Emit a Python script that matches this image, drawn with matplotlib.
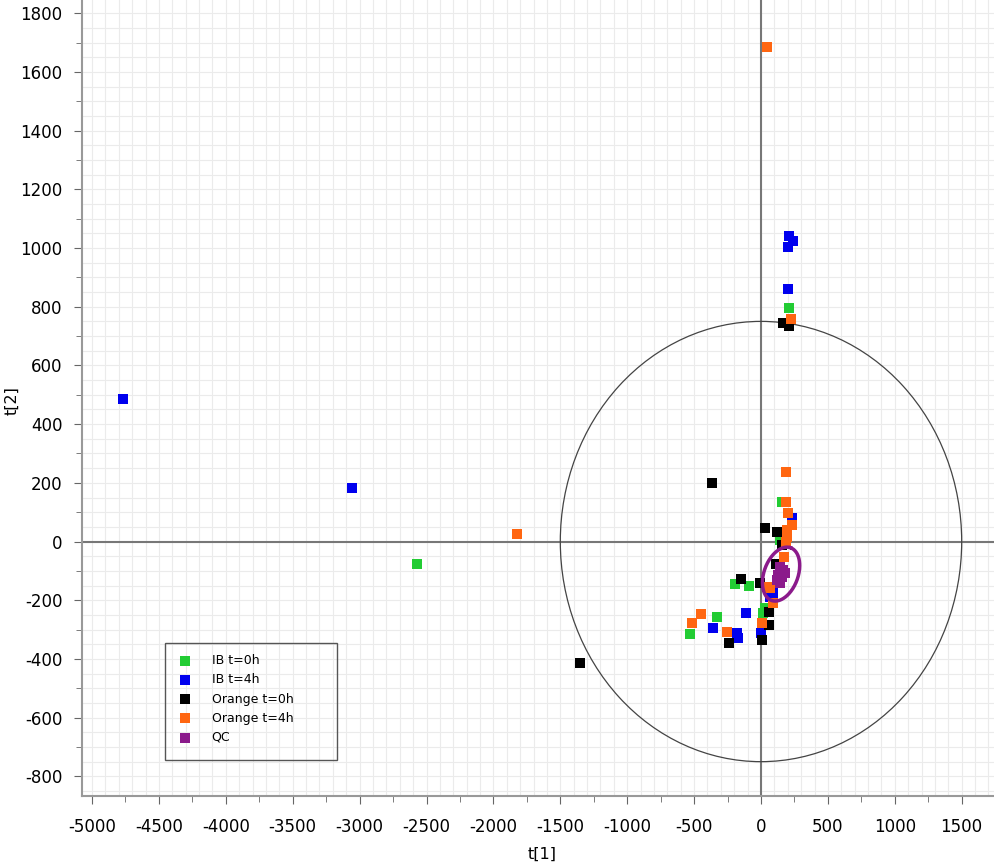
import numpy as np
import matplotlib
matplotlib.use("Agg")
import matplotlib.pyplot as plt
from matplotlib.patches import Ellipse, Rectangle

plt.rcParams["axes.unicode_minus"] = False

# ---- data (t[1], t[2]) ----
ib0_x = [-2570, 209, 157, 142, -194, -90, 30, -329, -531, 15]
ib0_y = [-75, 795, 135, 5, -145, -152, -227, -257, -315, -245]

ib4_x = [-4770, -3055, 209, 238, 202, 202, 232, 90, 67, -112, -359, -179, -172, 0]
ib4_y = [485, 182, 1041, 1024, 1004, 860, 80, -176, -190, -243, -295, -312, -329, -312]

or0_x = [-1355, 164, 209, -366, 30, 120, 157, 112, -149, -7, 60, -239, 60, 7]
or0_y = [-415, 744, 734, 199, 46, 32, -12, -77, -128, -141, -240, -346, -284, -336]

or4_x = [-1825, 45, 224, 187, 187, 200, 230, 195, 195, 187, 172, 45, 67, 90, -448, -516, -254, 7]
or4_y = [25, 1685, 758, 238, 135, 97, 56, 39, 15, -2, -53, -155, -158, -210, -247, -278, -308, -278]

qc_x = [142, 164, 127, 157, 120, 179, 142, 150]
qc_y = [-87, -97, -114, -121, -131, -107, -141, -100]

labels = ["IB t=0h", "IB t=4h", "Orange t=0h", "Orange t=4h", "QC"]
colors = ["#22cc33", "#0000ee", "#000000", "#ff6611", "#8b1a8b"]

# Hotelling ellipse semi-axes and QC ellipse parameters
t2_a, t2_b = 1500, 750
qc_cx, qc_cy = 150, -111

fig = plt.figure(figsize=(9.95, 8.65), dpi=100)
ax = fig.add_axes([82/995, 1-796/865, 1-82/995, 796/865])

ax.set_xlim(-5075, 1749)
ax.set_ylim(-867, 1845)

# grid
for gx in np.arange(-5000, 1800, 100):
    ax.axvline(gx, color="#ebebeb", lw=0.8, zorder=0)
for gy in np.arange(-850, 1850, 50):
    ax.axhline(gy, color="#ebebeb", lw=0.8, zorder=0)

ax.axvline(0, color="#777777", lw=1.5, zorder=1)
ax.axhline(0, color="#777777", lw=1.5, zorder=1)

ax.add_patch(Ellipse((0, 0), 2*t2_a, 2*t2_b, fill=False, color="#444444", lw=0.9, zorder=2))

series = [(ib0_x, ib0_y), (ib4_x, ib4_y), (or0_x, or0_y), (or4_x, or4_y), (qc_x, qc_y)]
for (xs, ys), c, lab in zip(series, colors, labels):
    ax.scatter(xs, ys, marker="s", s=48, color=c, label=lab, zorder=3, linewidths=0)

# QC ellipse (tilted)
tt = np.linspace(0, 2*np.pi, 200)
ex = qc_cx + 71.6*np.cos(tt) + 119.4*np.sin(tt)
ey = qc_cy + 89.7*np.cos(tt) - 19.8*np.sin(tt)
ax.plot(ex, ey, color="#8b1a8b", lw=2.5, zorder=4)

ax.set_xticks(np.arange(-5000, 1501, 500))
ax.set_xticks(np.arange(-5000, 1750, 250), minor=True)
ax.set_yticks(np.arange(-800, 1801, 200))
ax.set_yticks(np.arange(-800, 1850, 100), minor=True)
ax.tick_params(axis="both", which="major", length=6, color="#666666", labelsize=12)
ax.tick_params(axis="x", which="major", pad=10)
ax.tick_params(axis="y", which="major", pad=8)
ax.tick_params(axis="both", which="minor", length=4, color="#666666")
for s in ["top", "right"]:
    ax.spines[s].set_visible(False)
for s in ["left", "bottom"]:
    ax.spines[s].set_color("#999999")
    ax.spines[s].set_linewidth(1.5)

ax.set_xlabel("t[1]", fontsize=11.5)
ax.set_ylabel("t[2]", fontsize=11.5)
ax.xaxis.set_label_coords((542-82)/913, -(847-796)/796)
ax.yaxis.set_label_coords((19-82)/913, (796-401)/796)

# legend with fixed frame
leg = ax.legend(loc="upper left", bbox_to_anchor=((173-82)/913, (796-654)/796), frameon=False,
                fontsize=9, handletextpad=1.1, borderpad=0.0, labelspacing=0.5,
                markerscale=1.0, borderaxespad=0)
ax.add_patch(Rectangle(((165-82)/913, (796-760)/796), 172/913, 117/796,
                       transform=ax.transAxes, fill=False, edgecolor="#555555", lw=1.0, zorder=5))

fig.savefig("out.png", dpi=100)
